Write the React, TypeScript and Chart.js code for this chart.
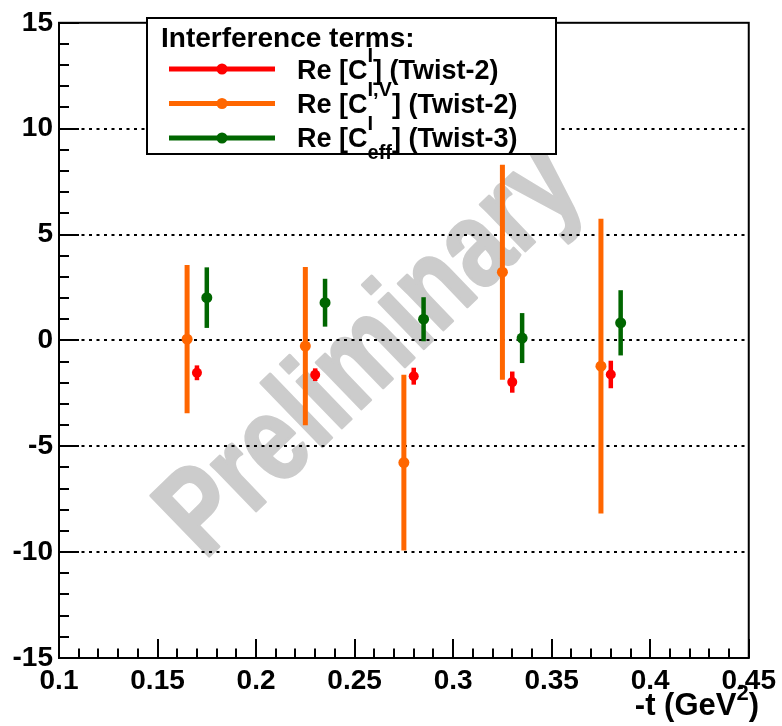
import React, { useEffect, useRef } from "react";
import { Chart, registerables } from "chart.js";

Chart.register(...registerables);

// ---- data ----
const tRed = [0.17, 0.23, 0.28, 0.33, 0.38];
const valRed = [-1.53, -1.62, -1.69, -1.97, -1.61];
const errRed = [0.35, 0.3, 0.4, 0.5, 0.65];

const tOrange = [0.165, 0.225, 0.275, 0.325, 0.375];
const valOrange = [0.06, -0.27, -5.77, 3.22, -1.22];
const errOrange = [3.5, 3.74, 4.15, 5.08, 6.96];

const tGreen = [0.175, 0.235, 0.285, 0.335, 0.385];
const valGreen = [2.02, 1.78, 1.0, 0.11, 0.83];
const errGreen = [1.43, 1.13, 1.04, 1.18, 1.54];

const xMin = 0.1;
const xMax = 0.45;
const xStep = 0.05;
const xMinorStep = 0.01;
const yMin = -15;
const yMax = 15;
const yStep = 5;
const yMinorStep = 1;
const gridValues = [-10, -5, 0, 5, 10];

const legendTitle = "Interference terms:";
type Part = { t?: string; sup?: string; sub?: string };
const legendLabels: Part[][] = [
  [{ t: "Re [C" }, { sup: "I" }, { t: "] (Twist-2)" }],
  [{ t: "Re [C" }, { sup: "I,V" }, { t: "] (Twist-2)" }],
  [{ t: "Re [C" }, { sup: "I", sub: "eff" }, { t: "] (Twist-3)" }],
];
const xTitle: Part[] = [{ t: "-t (GeV" }, { sup: "2" }, { t: ")" }];
const watermark = "Preliminary";

const FONT = '"Liberation Sans", Arial, Helvetica, sans-serif';

function richWidth(ctx: CanvasRenderingContext2D, parts: Part[], size: number, subSize: number) {
  let w = 0;
  for (const p of parts) {
    if (p.t) {
      ctx.font = `bold ${size}px ${FONT}`;
      w += ctx.measureText(p.t).width;
    } else {
      ctx.font = `bold ${subSize}px ${FONT}`;
      const a = p.sup ? ctx.measureText(p.sup).width : 0;
      const b = p.sub ? ctx.measureText(p.sub).width : 0;
      w += Math.max(a, b);
    }
  }
  return w;
}

function drawRich(
  ctx: CanvasRenderingContext2D,
  parts: Part[],
  x: number,
  baseline: number,
  size: number,
  subSize: number,
  raise: number,
  lower: number
) {
  ctx.textAlign = "left";
  ctx.textBaseline = "alphabetic";
  let cx = x;
  for (const p of parts) {
    if (p.t) {
      ctx.font = `bold ${size}px ${FONT}`;
      ctx.fillText(p.t, cx, baseline);
      cx += ctx.measureText(p.t).width;
    } else {
      ctx.font = `bold ${subSize}px ${FONT}`;
      let w = 0;
      if (p.sup) {
        ctx.fillText(p.sup, cx, baseline - raise);
        w = Math.max(w, ctx.measureText(p.sup).width);
      }
      if (p.sub) {
        ctx.fillText(p.sub, cx, baseline + lower);
        w = Math.max(w, ctx.measureText(p.sub).width);
      }
      cx += w;
    }
  }
}

export default function App() {
  const ref = useRef<HTMLCanvasElement>(null);

  useEffect(() => {
    const canvas = ref.current;
    if (!canvas) return;

    const series = [
      { label: "Re [C^I] (Twist-2)", color: "#ff0000", t: tRed, v: valRed, e: errRed, bw: 4.5, r: 5 },
      { label: "Re [C^I,V] (Twist-2)", color: "#ff6600", t: tOrange, v: valOrange, e: errOrange, bw: 5, r: 5.5 },
      { label: "Re [C^I_eff] (Twist-3)", color: "#006600", t: tGreen, v: valGreen, e: errGreen, bw: 4.5, r: 5.5 },
    ];

    const datasets: any[] = series.map((s) => ({
      label: s.label,
      data: s.t.map((t, i) => ({ x: t, y: s.v[i] })),
      errors: s.e,
      errWidth: s.bw,
      backgroundColor: s.color,
      borderColor: s.color,
      pointRadius: s.r,
      pointHoverRadius: s.r,
      pointBorderWidth: 0,
      showLine: false,
    }));

    const framePlugin = {
      id: "rootFrame",
      beforeDraw(chart: any) {
        const { ctx } = chart;
        // watermark
        ctx.save();
        ctx.translate(372, 352);
        ctx.rotate((-44 * Math.PI) / 180);
        ctx.scale(0.8, 1);
        ctx.font = `bold 122px ${FONT}`;
        ctx.fillStyle = "rgb(204,204,204)";
        ctx.strokeStyle = "rgb(204,204,204)";
        ctx.lineWidth = 3;
        ctx.lineJoin = "round";
        ctx.textAlign = "center";
        ctx.textBaseline = "middle";
        ctx.fillText(watermark, 0, 0);
        ctx.strokeText(watermark, 0, 0);
        ctx.restore();
      },
      beforeDatasetsDraw(chart: any) {
        const { ctx, chartArea, scales } = chart;
        const x = scales.x;
        const y = scales.y;
        // dotted grid
        ctx.save();
        ctx.strokeStyle = "#000";
        ctx.lineWidth = 2;
        ctx.setLineDash([3, 4.5]);
        for (const g of gridValues) {
          const py = Math.round(y.getPixelForValue(g));
          ctx.beginPath();
          ctx.moveTo(chartArea.left, py);
          ctx.lineTo(chartArea.right, py);
          ctx.stroke();
        }
        ctx.restore();
        // error bars
        chart.data.datasets.forEach((ds: any) => {
          ctx.save();
          ctx.strokeStyle = ds.borderColor;
          ctx.lineWidth = ds.errWidth;
          ctx.lineCap = "butt";
          ds.data.forEach((p: any, i: number) => {
            const px = x.getPixelForValue(p.x);
            const top = y.getPixelForValue(p.y + ds.errors[i]);
            const bot = y.getPixelForValue(p.y - ds.errors[i]);
            ctx.beginPath();
            ctx.moveTo(px, top);
            ctx.lineTo(px, bot);
            ctx.stroke();
          });
          ctx.restore();
        });
      },
      afterDatasetsDraw(chart: any) {
        const { ctx, chartArea, scales } = chart;
        const x = scales.x;
        const y = scales.y;
        ctx.save();
        ctx.strokeStyle = "#000";
        ctx.lineWidth = 2;
        ctx.setLineDash([]);
        // x ticks (inward)
        const nx = Math.round((xMax - xMin) / xMinorStep);
        const xr = Math.round(xStep / xMinorStep);
        for (let i = 0; i <= nx; i++) {
          const v = xMin + i * xMinorStep;
          const px = Math.round(x.getPixelForValue(v));
          const len = i % xr === 0 ? 19 : 9.5;
          ctx.beginPath();
          ctx.moveTo(px, chartArea.bottom);
          ctx.lineTo(px, chartArea.bottom - len);
          ctx.stroke();
        }
        // y ticks (inward)
        const ny = Math.round((yMax - yMin) / yMinorStep);
        const yr = Math.round(yStep / yMinorStep);
        for (let i = 0; i <= ny; i++) {
          const v = yMin + i * yMinorStep;
          const py = Math.round(y.getPixelForValue(v));
          const len = i % yr === 0 ? 20 : 10;
          ctx.beginPath();
          ctx.moveTo(chartArea.left, py);
          ctx.lineTo(chartArea.left + len, py);
          ctx.stroke();
        }
        // frame
        ctx.lineWidth = 2;
        ctx.strokeRect(
          chartArea.left,
          chartArea.top,
          chartArea.right - chartArea.left,
          chartArea.bottom - chartArea.top
        );
        ctx.restore();
      },
      afterDraw(chart: any) {
        const { ctx } = chart;
        ctx.save();
        // legend box
        const bx = 147, by = 18, bw = 409, bh = 136;
        ctx.fillStyle = "#fff";
        ctx.fillRect(bx, by, bw, bh);
        ctx.strokeStyle = "#000";
        ctx.lineWidth = 2;
        ctx.strokeRect(bx, by, bw, bh);
        ctx.fillStyle = "#000";
        ctx.font = `bold 28px ${FONT}`;
        ctx.textAlign = "left";
        ctx.textBaseline = "alphabetic";
        ctx.fillText(legendTitle, 161, 47);
        const rowY = [69, 103.5, 138];
        const baseY = [79, 113, 147];
        chart.data.datasets.forEach((ds: any, i: number) => {
          ctx.strokeStyle = ds.borderColor;
          ctx.lineWidth = 5;
          ctx.beginPath();
          ctx.moveTo(169, rowY[i]);
          ctx.lineTo(275, rowY[i]);
          ctx.stroke();
          ctx.fillStyle = ds.backgroundColor;
          ctx.beginPath();
          ctx.arc(222, rowY[i], 5.5, 0, Math.PI * 2);
          ctx.fill();
          ctx.fillStyle = "#000";
          drawRich(ctx, legendLabels[i], 297, baseY[i], 27, 20, 17, 12);
        });
        // x axis title
        const w = richWidth(ctx, xTitle, 31, 22);
        ctx.fillStyle = "#000";
        drawRich(ctx, xTitle, 759 - w, 715, 31, 22, 15, 0);
        ctx.restore();
      },
    };

    const tickFont = { family: FONT, size: 28, weight: "bold" as const };

    const chart = new Chart(canvas, {
      type: "scatter",
      data: { datasets },
      options: {
        animation: false,
        responsive: false,
        devicePixelRatio: 1,
        events: [],
        layout: { padding: { left: 0, right: 29, top: 18, bottom: 0 } },
        plugins: { legend: { display: false }, tooltip: { enabled: false } },
        scales: {
          x: {
            type: "linear",
            min: xMin,
            max: xMax,
            afterFit: (s: any) => {
              s.height = 68;
            },
            grid: { display: false, drawTicks: false },
            border: { display: false },
            ticks: {
              stepSize: xStep,
              autoSkip: false,
              maxRotation: 0,
              minRotation: 0,
              padding: 6,
              color: "#000",
              font: tickFont,
              callback: (v: any) => String(Number(Number(v).toFixed(2))),
            },
          },
          y: {
            type: "linear",
            min: yMin,
            max: yMax,
            afterFit: (s: any) => {
              s.width = 59;
            },
            grid: { display: false, drawTicks: false },
            border: { display: false },
            ticks: {
              stepSize: yStep,
              autoSkip: false,
              padding: 6,
              color: "#000",
              font: tickFont,
              callback: (v: any) => String(Math.round(Number(v))),
            },
          },
        },
      } as any,
      plugins: [framePlugin],
    });

    return () => {
      chart.destroy();
    };
  }, []);

  return (
    <canvas
      ref={ref}
      width={782}
      height={726}
      style={{ position: "absolute", left: 0, top: 0, display: "block" }}
    />
  );
}
